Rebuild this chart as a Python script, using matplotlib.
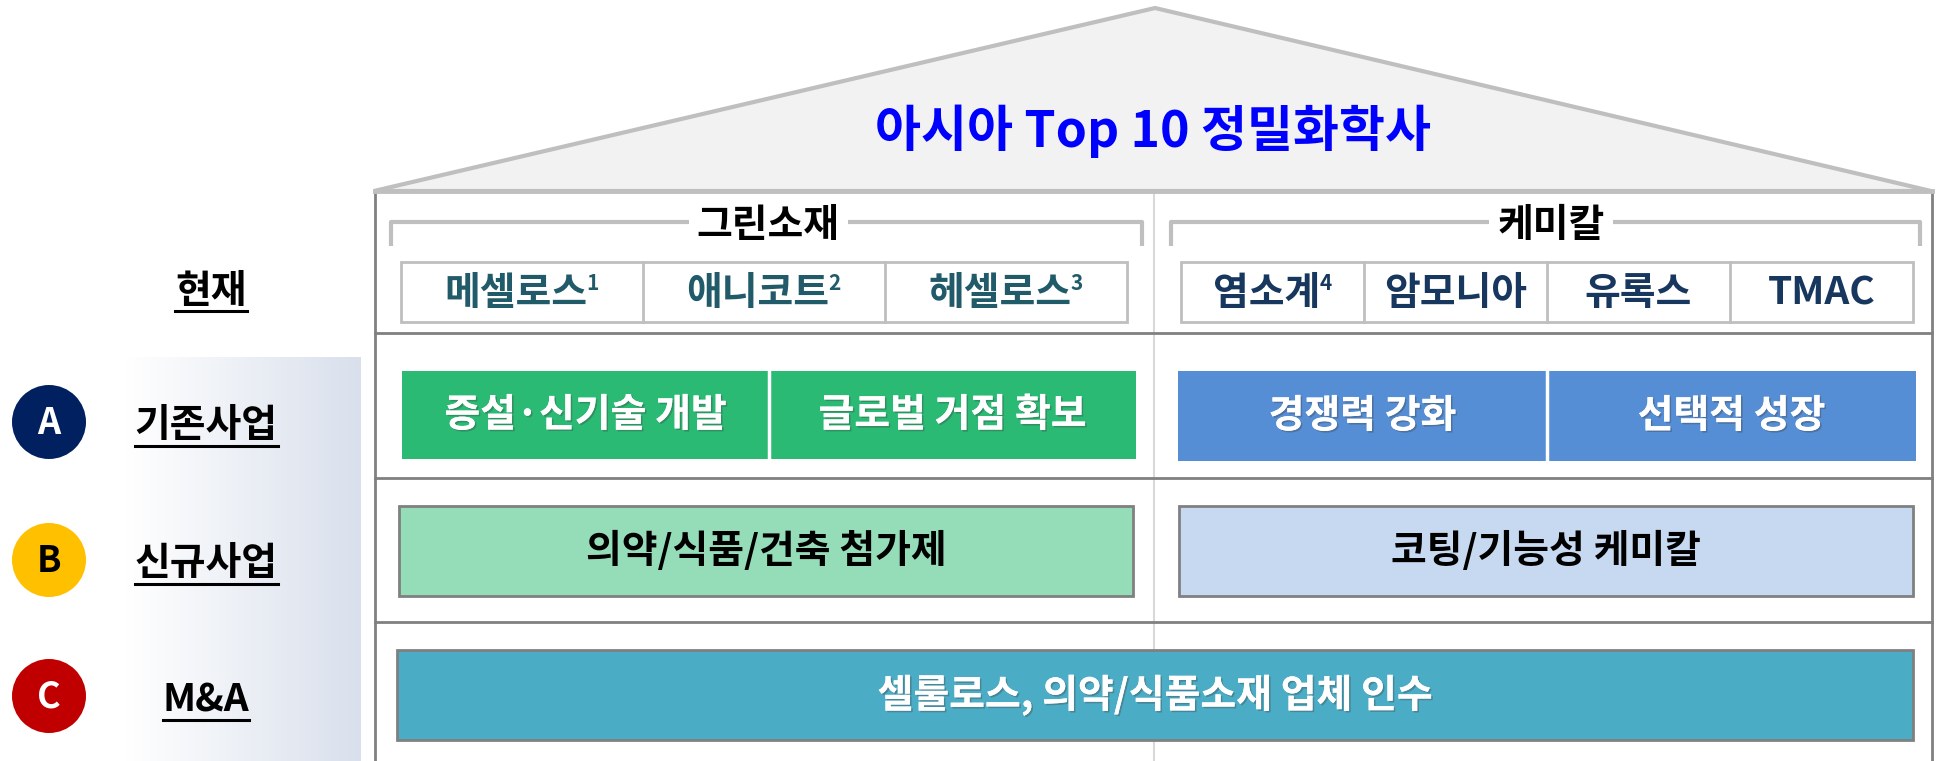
import matplotlib
matplotlib.use("Agg")
import matplotlib.pyplot as plt
import matplotlib.patheffects as pe
from matplotlib.patches import Rectangle, Circle, Polygon
import numpy as np

plt.rcParams['font.family'] = ['Noto Sans CJK KR', 'DejaVu Sans']

# ---------------- data ----------------
title = "아시아 Top 10 정밀화학사"
groups = ["그린소재", "케미칼"]
green_cells = ["메셀로스", "애니코트", "헤셀로스"]
green_sups = ["1", "2", "3"]
chem_cells = ["염소계", "암모니아", "유록스", "TMAC"]
chem_sups = ["4", "", "", ""]
row_letters = ["A", "B", "C"]
row_labels = ["기존사업", "신규사업", "M&A"]
current_label = "현재"
existing_green = ["증설·신기술 개발", "글로벌 거점 확보"]
existing_chem = ["경쟁력 강화", "선택적 성장"]
new_green = "의약/식품/건축 첨가제"
new_chem = "코팅/기능성 케미칼"
mna_text = "셀룰로스, 의약/식품소재 업체 인수"

# ---------------- styles ----------------
W, H = 1941, 761
fig = plt.figure(figsize=(W / 100, H / 100), dpi=100)
ax = fig.add_axes([0, 0, 1, 1])
ax.set_xlim(0, W)
ax.set_ylim(H, 0)
ax.axis('off')

GRAY_LIGHT = "#bfbfbf"
GRAY_DARK = "#808080"
FS = 28
shadow = [pe.withSimplePatchShadow(offset=(1.2, -1.2), shadow_rgbFace="#404040", alpha=0.35), pe.Normal()]

# left gradient panel
grad = np.linspace(0, 1, 256)[None, :]
c0 = np.array([1.0, 1.0, 1.0])
c1 = np.array([0xd9, 0xe0, 0xec]) / 255
img = c0[None, None, :] * (1 - grad[..., None]) + c1[None, None, :] * grad[..., None]
ax.imshow(img, extent=[127, 361, H, 357], aspect='auto', zorder=0)

# roof
roof = Polygon([[374, 191], [1155, 8], [1931, 191]], closed=True,
               facecolor="#f2f2f2", edgecolor=GRAY_LIGHT, lw=3, zorder=1)
ax.add_patch(roof)
ax.text(1153, 131, title, color="#0000ff", fontsize=36, fontweight='bold',
        ha='center', va='center', zorder=5)

# house walls and grid lines
ax.plot([1154, 1154], [192, H], color="#d9d9d9", lw=1.5, zorder=1)
ax.plot([375, 375], [191, H], color=GRAY_DARK, lw=2, zorder=2)
ax.plot([1932, 1932], [191, H], color=GRAY_DARK, lw=2, zorder=2)
ax.plot([375, 1932], [191, 191], color=GRAY_LIGHT, lw=3.5, zorder=2)
for yl in [333, 478, 622]:
    ax.plot([375, 1932], [yl, yl], color=GRAY_DARK, lw=2, zorder=2)

fig.canvas.draw()
renderer = fig.canvas.get_renderer()
inv = ax.transData.inverted()


def extent(t):
    bb = t.get_window_extent(renderer=renderer)
    (x0, y0), (x1, y1) = inv.transform([[bb.x0, bb.y0], [bb.x1, bb.y1]])
    return min(x0, x1), max(x0, x1), min(y0, y1), max(y0, y1)


# group brackets
brackets = [(391, 1142, 768), (1171, 1920, 1551)]
for name, (bx0, bx1, cx) in zip(groups, brackets):
    t = ax.text(cx, 226, name, fontsize=FS, fontweight='bold', color="black",
                ha='center', va='center', zorder=5)
    tx0, tx1, _, _ = extent(t)
    ax.plot([bx0, bx0, tx0 - 8], [246, 222, 222], color=GRAY_LIGHT, lw=3,
            solid_capstyle='butt', zorder=3)
    ax.plot([tx1 + 8, bx1, bx1], [222, 222, 246], color=GRAY_LIGHT, lw=3,
            solid_capstyle='butt', zorder=3)


def cell_row(labels, sups, x0, x1, color):
    n = len(labels)
    w = (x1 - x0) / n
    ax.add_patch(Rectangle((x0, 262), x1 - x0, 60, facecolor="white",
                           edgecolor=GRAY_LIGHT, lw=2, zorder=3))
    for i, (lab, sup) in enumerate(zip(labels, sups)):
        if i > 0:
            ax.plot([x0 + i * w] * 2, [262, 322], color=GRAY_LIGHT, lw=2, zorder=3)
        cx = x0 + (i + 0.5) * w
        off = 6 if sup else 0
        t = ax.text(cx - off, 293, lab, fontsize=FS, fontweight='bold', color=color,
                    ha='center', va='center', zorder=5)
        if sup:
            ex0, ex1, ey0, ey1 = extent(t)
            ax.text(ex1 - 1, 284, sup, fontsize=15, fontweight='bold', color=color,
                    ha='left', va='center', zorder=5)


cell_row(green_cells, green_sups, 401, 1127, "#215a69")
cell_row(chem_cells, chem_sups, 1181, 1913, "#17375e")

# current label
def underlined(x, y, s):
    t = ax.text(x, y, s, fontsize=FS, fontweight='bold', color="black",
                ha='center', va='center', zorder=5)
    x0, x1, y0, y1 = extent(t)
    ax.plot([x0, x1], [y + 20, y + 20], color="black", lw=2.2, zorder=5)


underlined(211, 291, current_label)

# row markers
circle_colors = ["#002060", "#ffc000", "#c00000"]
letter_colors = ["white", "black", "white"]
row_y = [422, 560, 696]
for letter, lab, yc, cc, lc in zip(row_letters, row_labels, row_y, circle_colors, letter_colors):
    ax.add_patch(Circle((49, yc), 37, facecolor=cc, edgecolor='none', zorder=4))
    ax.text(49, yc + 1, letter, fontsize=26, fontweight='bold', color=lc,
            ha='center', va='center', zorder=5)
    underlined(206, yc + 4, lab)

# row A: existing business
def split_box(labels, x0, x1, y0, y1, color):
    n = len(labels)
    w = (x1 - x0) / n
    for i, lab in enumerate(labels):
        ax.add_patch(Rectangle((x0 + i * w, y0), w, y1 - y0, facecolor=color,
                               edgecolor='none', zorder=3))
        if i > 0:
            ax.plot([x0 + i * w] * 2, [y0, y1], color="white", lw=2.5, zorder=4)
        ax.text(x0 + (i + 0.5) * w, (y0 + y1) / 2, lab, fontsize=FS, fontweight='bold',
                color="white", ha='center', va='center', zorder=5, path_effects=shadow)


split_box(existing_green, 402, 1136, 371, 459, "#2aba74")
split_box(existing_chem, 1178, 1916, 371, 461, "#558ed5")

# row B: new business
def framed_box(x0, x1, y0, y1, face, text, tcolor, effects=None):
    ax.add_patch(Rectangle((x0, y0), x1 - x0, y1 - y0, facecolor=face,
                           edgecolor=GRAY_DARK, lw=2, zorder=3))
    ax.text((x0 + x1) / 2, (y0 + y1) / 2, text, fontsize=FS, fontweight='bold',
            color=tcolor, ha='center', va='center', zorder=5, path_effects=effects)


framed_box(399, 1133, 506, 596, "#95dcb9", new_green, "black")
framed_box(1179, 1913, 506, 596, "#c6d9f1", new_chem, "black")

# row C: M&A
framed_box(397, 1913, 650, 740, "#4bacc6", mna_text, "white", shadow)

fig.savefig("out.png", dpi=100)
